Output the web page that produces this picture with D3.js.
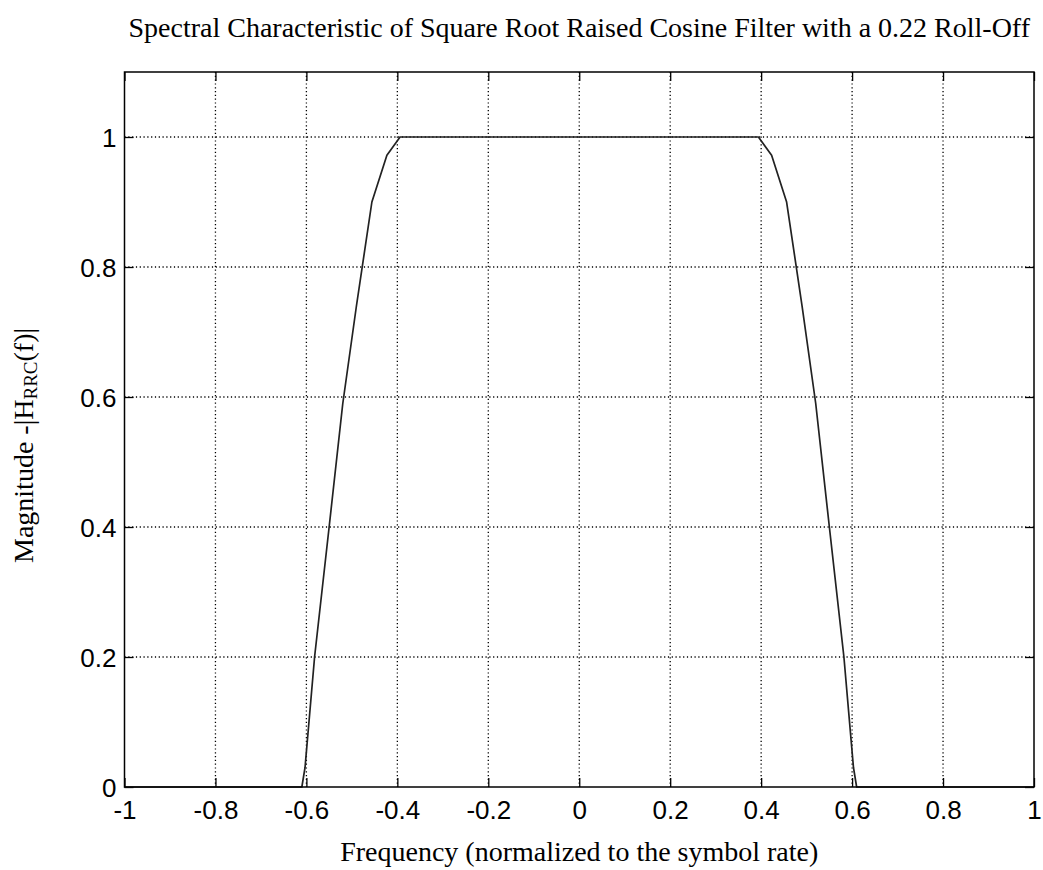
<!DOCTYPE html>
<html>
<head>
<meta charset="utf-8">
<script src="https://cdn.jsdelivr.net/npm/d3@7"></script>
<style>
  html, body { margin: 0; padding: 0; background: #fff; }
  svg { display: block; }
</style>
</head>
<body>
<svg id="chart" width="1043" height="870"></svg>
<script>
// ---- data ----
const freq = [-1, -0.61, -0.603, -0.582, -0.55, -0.52, -0.49, -0.456, -0.423, -0.394,
              0.394, 0.423, 0.456, 0.49, 0.52, 0.55, 0.582, 0.603, 0.61, 1];
const magnitude = [0, 0, 0.03, 0.20, 0.40, 0.59, 0.74, 0.90, 0.972, 1,
                   1, 0.972, 0.90, 0.74, 0.59, 0.40, 0.20, 0.03, 0, 0];
const xTicks = [-1, -0.8, -0.6, -0.4, -0.2, 0, 0.2, 0.4, 0.6, 0.8, 1];
const yTicks = [0, 0.2, 0.4, 0.6, 0.8, 1];
const xTickLabels = ["-1", "-0.8", "-0.6", "-0.4", "-0.2", "0", "0.2", "0.4", "0.6", "0.8", "1"];
const yTickLabels = ["0", "0.2", "0.4", "0.6", "0.8", "1"];
const titleText = "Spectral Characteristic of Square Root Raised Cosine Filter with a 0.22 Roll-Off";
const xLabelText = "Frequency (normalized to the symbol rate)";

// ---- layout ----
const L = 124.5, R = 1034, T = 72, B = 787;
const svg = d3.select("#chart");
const x = d3.scaleLinear().domain([-1, 1]).range([L, R]);
const y = d3.scaleLinear().domain([0, 1.1]).range([B, T]);
const sans = "'Liberation Sans', Arial, sans-serif";
const serif = "'Liberation Serif', 'Times New Roman', serif";

// grid
const grid = svg.append("g");
grid.selectAll("line.vx").data(xTicks.slice(1, -1)).enter().append("line")
  .attr("x1", d => x(d)).attr("x2", d => x(d)).attr("y1", T).attr("y2", B)
  .attr("stroke", "#000").attr("stroke-width", 1.3).attr("stroke-dasharray", "1.2,2.6");
grid.selectAll("line.hy").data(yTicks.slice(1)).enter().append("line")
  .attr("y1", d => y(d)).attr("y2", d => y(d)).attr("x1", L).attr("x2", R)
  .attr("stroke", "#000").attr("stroke-width", 1.3).attr("stroke-dasharray", "1.2,2.6");

// axes (ticks inside), using d3 axes
const tickLen = 9;
const xAxisB = d3.axisBottom(x).tickValues(xTicks).tickSize(-tickLen).tickFormat((d, i) => xTickLabels[i]).tickPadding(14);
const gxb = svg.append("g").attr("transform", `translate(0,${B})`).call(xAxisB);
gxb.select(".domain").remove();
gxb.selectAll("line").attr("stroke", "#000").attr("stroke-width", 1.3);
gxb.selectAll("text").attr("font-family", sans).attr("font-size", 26).attr("fill", "#000").attr("dy", "0.71em");

const xAxisT = d3.axisTop(x).tickValues(xTicks).tickSize(-tickLen).tickFormat("");
const gxt = svg.append("g").attr("transform", `translate(0,${T})`).call(xAxisT);
gxt.select(".domain").remove();
gxt.selectAll("line").attr("stroke", "#000").attr("stroke-width", 1.3);

const yAxisL = d3.axisLeft(y).tickValues(yTicks).tickSize(-tickLen).tickFormat((d, i) => yTickLabels[i]).tickPadding(8);
const gyl = svg.append("g").attr("transform", `translate(${L},0)`).call(yAxisL);
gyl.select(".domain").remove();
gyl.selectAll("line").attr("stroke", "#000").attr("stroke-width", 1.3);
gyl.selectAll("text").attr("font-family", sans).attr("font-size", 26).attr("fill", "#000").attr("dy", "0.35em");

const yAxisR = d3.axisRight(y).tickValues(yTicks).tickSize(-tickLen).tickFormat("");
const gyr = svg.append("g").attr("transform", `translate(${R},0)`).call(yAxisR);
gyr.select(".domain").remove();
gyr.selectAll("line").attr("stroke", "#000").attr("stroke-width", 1.3);

// curve
const line = d3.line().x(d => x(d[0])).y(d => y(d[1]));
svg.append("path")
  .datum(freq.map((f, i) => [f, magnitude[i]]))
  .attr("d", line).attr("fill", "none")
  .attr("stroke", "#222").attr("stroke-width", 1.7).attr("stroke-linejoin", "round");

// frame
svg.append("rect").attr("x", L).attr("y", T).attr("width", R - L).attr("height", B - T)
  .attr("fill", "none").attr("stroke", "#000").attr("stroke-width", 1.5);

// title
svg.append("text").attr("x", (L + R) / 2).attr("y", 37).attr("text-anchor", "middle")
  .attr("font-family", serif).attr("font-size", 28).attr("fill", "#000").text(titleText);

// x label
svg.append("text").attr("x", (L + R) / 2).attr("y", 861).attr("text-anchor", "middle")
  .attr("font-family", serif).attr("font-size", 28).attr("fill", "#000").text(xLabelText);

// y label with subscript
const yl = svg.append("text").attr("transform", "translate(33,563) rotate(-90)")
  .attr("text-anchor", "start").attr("font-family", serif).attr("font-size", 28).attr("fill", "#000");
yl.append("tspan").text("Magnitude -|H");
yl.append("tspan").attr("font-size", 19).attr("dy", 4).text("RRC");
yl.append("tspan").attr("dy", -4).text("(f)|");
</script>
</body>
</html>
